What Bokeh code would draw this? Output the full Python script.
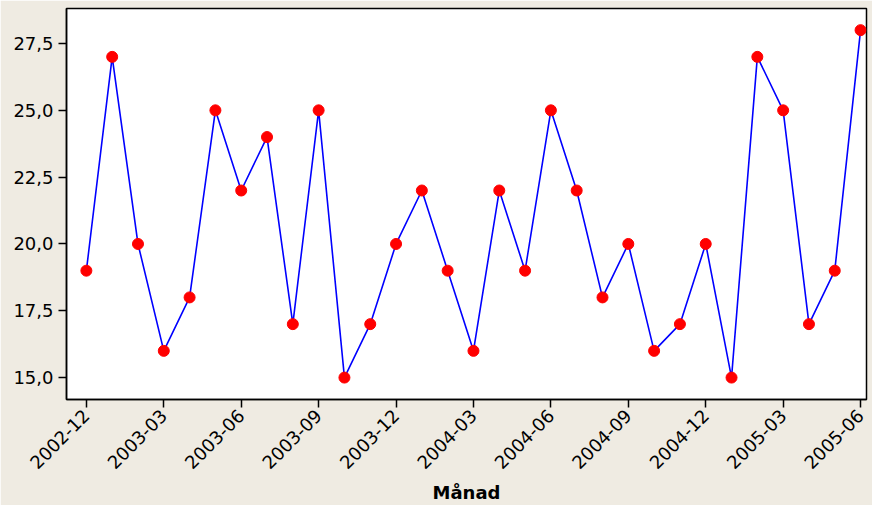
import math
from bokeh.plotting import figure
from bokeh.models import FixedTicker, CustomJSTickFormatter, Range1d, ColumnDataSource
from bokeh.embed import file_html
from bokeh.resources import INLINE

months = ["2002-12", "2003-01", "2003-02", "2003-03", "2003-04", "2003-05", "2003-06",
          "2003-07", "2003-08", "2003-09", "2003-10", "2003-11", "2003-12",
          "2004-01", "2004-02", "2004-03", "2004-04", "2004-05", "2004-06",
          "2004-07", "2004-08", "2004-09", "2004-10", "2004-11", "2004-12",
          "2005-01", "2005-02", "2005-03", "2005-04", "2005-05", "2005-06"]
values = [19, 27, 20, 16, 18, 25, 22, 24, 17, 25, 15, 17, 20,
          22, 19, 16, 22, 19, 25, 22, 18, 20, 16, 17, 20,
          15, 27, 25, 17, 19, 28]
y_ticks = [15.0, 17.5, 20.0, 22.5, 25.0, 27.5]
x_label = "Månad"

idx = list(range(len(months)))
src = ColumnDataSource(dict(x=idx, y=values, m=months))

bg = "#efebe2"
FONT = "DejaVu Sans"

p = figure(width=872, height=505, output_backend="svg", toolbar_location=None,
           x_range=Range1d(-0.77, 30.23), y_range=Range1d(14.18, 28.81),
           min_border_left=66, min_border_right=6, min_border_top=8, min_border_bottom=105)
p.background_fill_color = "white"
p.border_fill_color = bg
p.outline_line_color = "black"
p.outline_line_width = 1.5
p.xgrid.visible = False
p.ygrid.visible = False

p.line("x", "y", source=src, line_color="#0000ff", line_width=1.6)
p.scatter("x", "y", source=src, size=11, fill_color="#ff0000", line_color="#ff0000")

tick_idx = [i for i in idx if i % 3 == 0]
p.xaxis.ticker = FixedTicker(ticks=tick_idx)
p.xaxis.major_label_overrides = {i: months[i] for i in tick_idx}
p.xaxis.major_label_orientation = math.pi / 4
p.xaxis.axis_label = x_label
p.xaxis.axis_label_text_font_style = "bold"
p.xaxis.axis_label_standoff = 4

p.yaxis.ticker = FixedTicker(ticks=y_ticks)
p.yaxis.formatter = CustomJSTickFormatter(code="return tick.toFixed(1).replace('.', ',');")

for ax in (p.xaxis, p.yaxis):
    ax.minor_tick_line_color = None
    ax.major_tick_out = 8
    ax.major_tick_in = 0
    ax.major_tick_line_color = "black"
    ax.major_tick_line_width = 1.5
    ax.axis_line_color = "black"
    ax.axis_line_width = 1.5
    ax.major_label_text_font = FONT
    ax.major_label_text_font_size = "18px"
    ax.major_label_text_color = "black"
    ax.major_label_standoff = 5
    ax.axis_label_text_font = FONT
    ax.axis_label_text_font_size = "18px"
    ax.axis_label_text_color = "black"

open("out.html", "w").write(file_html(p, INLINE))
